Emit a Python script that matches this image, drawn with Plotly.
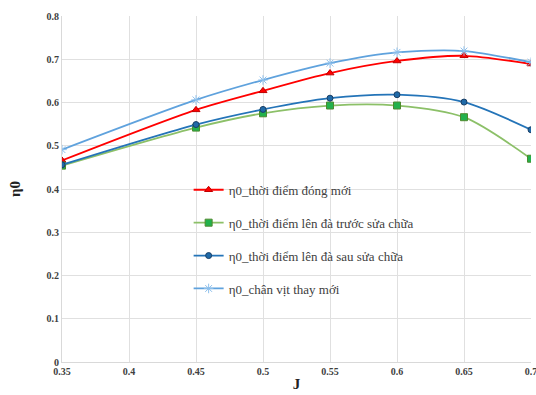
import plotly.graph_objects as go

J = [0.35, 0.45, 0.5, 0.55, 0.6, 0.65, 0.7]
eta_dong_moi = [0.466, 0.583, 0.627, 0.668, 0.696, 0.708, 0.689]
eta_truoc_sua = [0.454, 0.542, 0.575, 0.593, 0.593, 0.566, 0.470]
eta_sau_sua = [0.456, 0.549, 0.584, 0.610, 0.618, 0.601, 0.537]
eta_thay_moi = [0.491, 0.606, 0.652, 0.691, 0.716, 0.719, 0.693]

names = ["η0_thời điểm đóng mới", "η0_thời điểm lên đà trước sửa chữa",
         "η0_thời điểm lên đà sau sửa chữa", "η0_chân vịt thay mới"]
x_ticks = [0.35, 0.4, 0.45, 0.5, 0.55, 0.6, 0.65, 0.7]
x_tick_text = ["0.35", "0.4", "0.45", "0.5", "0.55", "0.6", "0.65", "0.7"]
y_ticks = [0, 0.1, 0.2, 0.3, 0.4, 0.5, 0.6, 0.7, 0.8]
y_tick_text = ["0", "0.1", "0.2", "0.3", "0.4", "0.5", "0.6", "0.7", "0.8"]

fig = go.Figure()
styles = [
    (eta_dong_moi, "#FF0000", "#FF0000", "triangle-up", 7, "#C00000"),
    (eta_truoc_sua, "#8CC068", "#22B14C", "square", 7, "#4E8A2E"),
    (eta_sau_sua, "#2474B8", "#1F6AA8", "circle", 6, "#1A3F66"),
    (eta_thay_moi, "#5FA2DD", "#8EC0EC", "asterisk-open", 8, "#8EC0EC"),
]
for i, (vals, lc, mc, sym, ms, mlc) in enumerate(styles):
    fig.add_trace(go.Scatter(
        x=J, y=vals, name=names[i], mode="lines+markers",
        line=dict(color=lc, width=1.8, shape="spline", smoothing=0.8),
        marker=dict(symbol=sym, size=ms, color=mc, line=dict(color=mlc, width=1)),
        legendgroup=str(i),
    ))

fig.update_layout(
    width=536, height=395,
    margin=dict(l=62, r=5, t=16, b=33),
    paper_bgcolor="white", plot_bgcolor="white",
    font=dict(family="Liberation Serif", color="#333333"),
    legend=dict(x=0.27, y=0.541, xanchor="left", yanchor="top",
                bgcolor="rgba(255,255,255,0)", font=dict(size=13, color="#404040"),
                tracegroupgap=13, itemwidth=30),
    xaxis=dict(range=[0.35, 0.7], tickvals=x_ticks, ticktext=x_tick_text, automargin=False,
               showgrid=True, gridcolor="#E0E0E0", gridwidth=1, zeroline=False,
               showline=True, linecolor="#D9D9D9", ticklabeloverflow="allow",
               tickfont=dict(size=10, family="Liberation Serif", color="#404040", weight="bold"),
               title=dict(text="<b>J</b>", font=dict(size=15, color="#222222"), standoff=2)),
    yaxis=dict(range=[0, 0.8], tickvals=y_ticks, ticktext=y_tick_text, automargin=False,
               showgrid=True, gridcolor="#E0E0E0", gridwidth=1, zeroline=False,
               showline=True, linecolor="#D9D9D9",
               tickfont=dict(size=10, family="Liberation Serif", color="#404040", weight="bold"),
               title=dict(text="<b>η0</b>", font=dict(size=15, color="#222222"), standoff=22)),
)
fig.write_html("out.html", config={"displayModeBar": False},
               post_script="document.body.style.margin='0';document.body.style.overflow='hidden';")
